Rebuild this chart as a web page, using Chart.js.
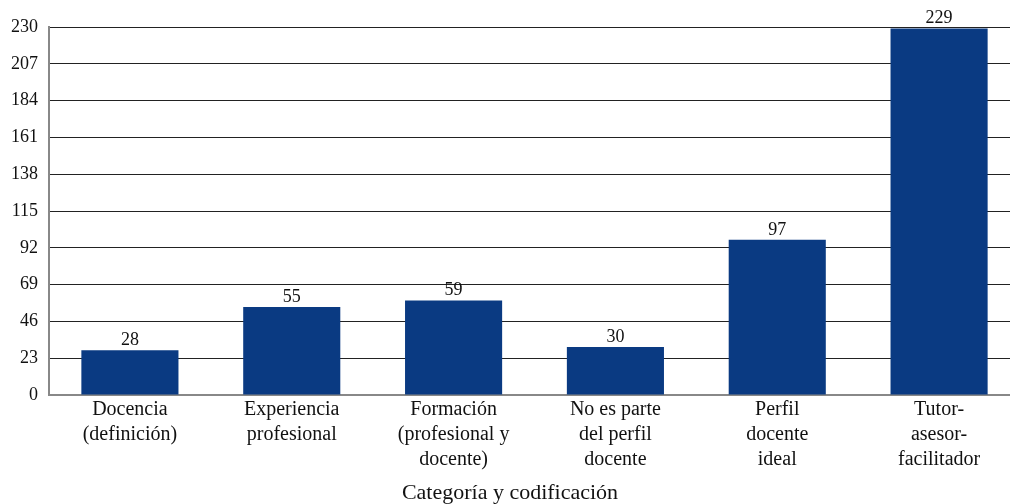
<!DOCTYPE html>
<html>
<head>
<meta charset="utf-8">
<script src="https://cdn.jsdelivr.net/npm/chart.js@4.4.1/dist/chart.umd.min.js"></script>
<style>
html,body{margin:0;padding:0;background:#fff;overflow:hidden;}
#wrap{width:1020px;height:504px;position:relative;}
</style>
</head>
<body>
<div id="wrap"><canvas id="c"></canvas></div>
<script>
const categories = [
  ["Docencia","(definición)"],
  ["Experiencia","profesional"],
  ["Formación","(profesional y","docente)"],
  ["No es parte","del perfil","docente"],
  ["Perfil","docente","ideal"],
  ["Tutor-","asesor-","facilitador"]
];
const values = [28, 55, 59, 30, 97, 229];
const yTicks = [0, 23, 46, 69, 92, 115, 138, 161, 184, 207, 230];
const xTitle = "Categoría y codificación";

const FONT = "'Liberation Serif', 'Times New Roman', serif";

const valueLabels = {
  id: 'valueLabels',
  afterDatasetsDraw(chart) {
    const ctx = chart.ctx;
    const meta = chart.getDatasetMeta(0);
    ctx.save();
    ctx.font = "18px " + FONT;
    ctx.fillStyle = "#111";
    ctx.textAlign = "center";
    ctx.textBaseline = "bottom";
    meta.data.forEach((bar, i) => {
      ctx.fillText(String(values[i]), bar.x, bar.y - 1);
    });
    ctx.restore();
  }
};

new Chart(document.getElementById('c'), {
  type: 'bar',
  data: {
    labels: categories,
    datasets: [{
      data: values,
      backgroundColor: '#0a3a82',
      borderWidth: 0,
      categoryPercentage: 1.0,
      barPercentage: 0.6
    }]
  },
  options: {
    responsive: true,
    maintainAspectRatio: false,
    animation: false,
    layout: { padding: { top: 27, right: 0, left: 0, bottom: 0 } },
    plugins: {
      legend: { display: false },
      tooltip: { enabled: false },
      title: {
        display: true,
        position: 'bottom',
        text: xTitle,
        color: '#111',
        font: { family: FONT, size: 22, weight: 'normal', lineHeight: 1.0 },
        padding: { top: 8, bottom: 0 }
      }
    },
    scales: {
      x: {
        grid: { display: false, drawTicks: false },
        border: { color: '#888', width: 2 },
        ticks: {
          color: '#111',
          font: { family: FONT, size: 20, lineHeight: 1.25 },
          padding: 2,
          maxRotation: 0,
          autoSkip: false
        }
      },
      y: {
        min: 0,
        max: 230,
        afterBuildTicks(scale) {
          scale.ticks = yTicks.map(v => ({ value: v }));
        },
        afterFit(scale) { scale.width = 49; },
        grid: {
          drawTicks: false,
          color: ctx => ctx.tick && ctx.tick.value === 0 ? '#888' : '#222',
          lineWidth: 1
        },
        border: { color: '#888', width: 2 },
        ticks: {
          color: '#111',
          font: { family: FONT, size: 18 },
          padding: 11
        }
      }
    }
  },
  plugins: [valueLabels]
});
</script>
</body>
</html>
